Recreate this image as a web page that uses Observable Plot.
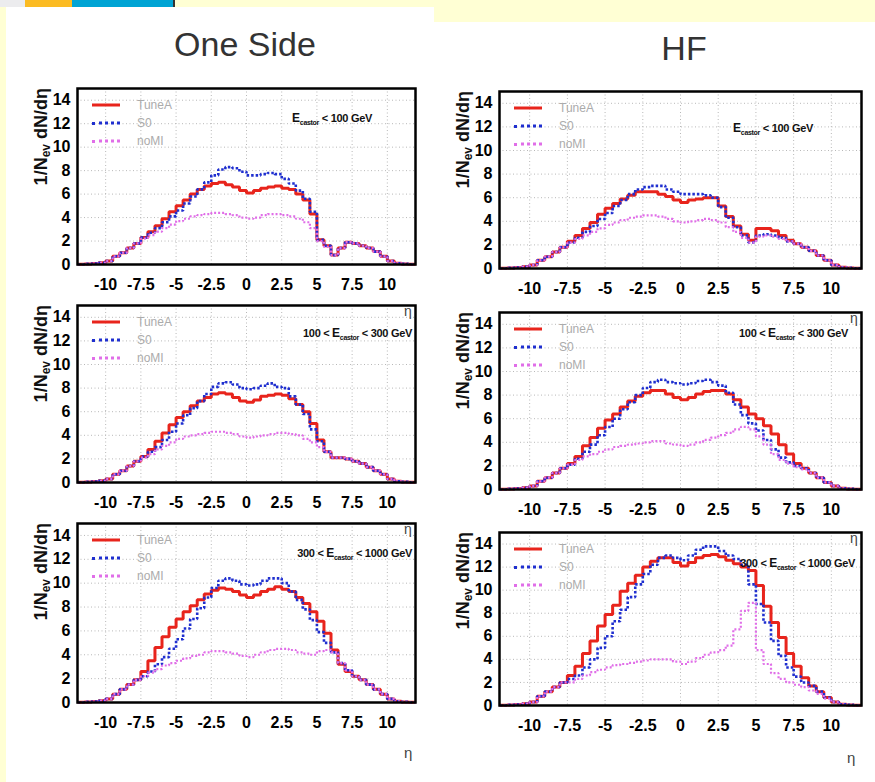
<!DOCTYPE html>
<html>
<head>
<meta charset="utf-8">
<script src="https://cdn.jsdelivr.net/npm/d3@7"></script>
<script src="https://cdn.jsdelivr.net/npm/@observablehq/plot@0.6"></script>
<style>
  html, body { margin: 0; padding: 0; }
  body { width: 875px; height: 782px; background: #ffffd4; position: relative; overflow: hidden;
         font-family: "Liberation Sans", Arial, sans-serif; }
  .abs { position: absolute; }
  .sheet { position: absolute; background: #ffffff; }
  .title { position: absolute; font-size: 34px; color: #333; white-space: nowrap; transform: translateX(-50%); }
  .ylab { position: absolute; width: 124px; height: 22px; line-height: 22px; text-align: right;
          font-weight: bold; font-size: 18px; color: #111; white-space: nowrap; transform: rotate(-90deg); }
  .ylab sub { font-size: 12px; vertical-align: -3px; }
  .elab { position: absolute; font-weight: bold; font-size: 11px; color: #111; white-space: nowrap;
          transform: translate(-100%, -50%); letter-spacing: -0.3px; }
  .elab .E { font-size: 12px; }
  .elab sub { font-size: 7px; vertical-align: -3px; }
  .leg { position: absolute; font-size: 12px; color: #ababab; white-space: nowrap; transform: translateY(-50%); }
  .legline { position: absolute; width: 28px; height: 0; transform: translateY(-50%); }
  .eta { position: absolute; color: #444; font-size: 15px; white-space: nowrap; }
</style>
</head>
<body>
<script>
// ---------------- data ----------------
const etaEdges = [-12,-11.5,-11,-10.5,-10,-9.5,-9,-8.5,-8,-7.5,-7,-6.5,-6,-5.5,-5,-4.5,-4,-3.5,-3,-2.5,-2,-1.5,-1,-0.5,0,
                  0.5,1,1.5,2,2.5,3,3.5,4,4.5,5,5.5,6,6.5,7,7.5,8,8.5,9,9.5,10,10.5,11,11.5,12];
const xTickValues = [-10,-7.5,-5,-2.5,0,2.5,5,7.5,10];
const yTickValues = [0,2,4,6,8,10,12,14];
const seriesNames = ["TuneA","S0","noMI"];
const columnTitles = ["One Side","HF"];
const energyPrefix = ["", "100 <", "300 <"];
const energySuffix = ["< 100 GeV", "< 300 GeV", "< 1000 GeV"];

// One Side, E_castor < 100 GeV
const oneSideLow_TuneA = [0.02,0.05,0.08,0.15,0.3,0.7,1.0,1.4,1.8, 2.3,2.8,3.3,3.9, 4.5,5.0,5.5,6.0, 6.4,6.7,6.9,7.0, 6.8,6.6,6.3,6.1, 6.3,6.5,6.6,6.7, 6.5,6.4,6.0,5.5, 4.3,2.1,1.6,0.8, 1.4,1.9,1.8,1.6, 1.4,1.1,0.7,0.3, 0.1,0.05,0.02];
const oneSideLow_S0    = [0.02,0.05,0.08,0.15,0.3,0.7,1.0,1.4,1.8, 2.3,2.7,3.1,3.6, 4.1,4.6,5.2,5.8, 6.4,7.0,7.6,8.1, 8.3,8.2,7.9,7.6, 7.6,7.7,7.8,7.7, 7.3,6.9,6.3,5.6, 4.5,2.1,1.6,0.8, 1.4,1.9,1.8,1.6, 1.4,1.1,0.7,0.3, 0.1,0.05,0.02];
const oneSideLow_noMI  = [0.02,0.05,0.08,0.15,0.3,0.7,1.0,1.4,1.8, 2.2,2.5,2.8,3.1, 3.4,3.7,3.9,4.1, 4.2,4.3,4.4,4.4, 4.3,4.2,4.0,3.9, 4.0,4.2,4.3,4.3, 4.2,4.1,3.9,3.6, 3.1,2.0,1.5,0.8, 1.4,1.9,1.8,1.6, 1.4,1.1,0.7,0.3, 0.1,0.05,0.02];
// HF, E_castor < 100 GeV
const hfLow_TuneA = [0.02,0.05,0.08,0.15,0.3,0.7,1.0,1.4,1.8, 2.3,2.8,3.4,3.9, 4.6,5.1,5.5,5.9, 6.2,6.5,6.5,6.5, 6.3,6.1,5.8,5.6, 5.8,5.9,6.0,6.0, 5.3,4.4,3.6,2.9, 2.4,3.4,3.4,3.2, 2.8,2.4,2.1,1.8, 1.5,1.1,0.7,0.3, 0.1,0.05,0.02];
const hfLow_S0    = [0.02,0.05,0.08,0.15,0.3,0.7,1.0,1.4,1.8, 2.2,2.6,3.1,3.6, 4.2,4.7,5.3,5.8, 6.3,6.7,6.9,7.0, 7.0,6.7,6.5,6.3, 6.3,6.3,6.2,6.0, 5.2,4.3,3.5,2.8, 2.2,2.8,2.9,2.8, 2.6,2.3,2.1,1.8, 1.5,1.1,0.7,0.3, 0.1,0.05,0.02];
const hfLow_noMI  = [0.02,0.05,0.08,0.15,0.3,0.7,1.0,1.4,1.8, 2.2,2.5,2.8,3.1, 3.4,3.7,3.9,4.1, 4.3,4.4,4.5,4.5, 4.4,4.2,4.0,3.9, 4.0,4.1,4.2,4.1, 3.9,3.5,3.1,2.6, 2.2,2.7,2.8,2.7, 2.5,2.3,2.1,1.8, 1.5,1.1,0.7,0.3, 0.1,0.05,0.02];
// One Side, 100 < E_castor < 300 GeV
const oneSideMid_TuneA = [0.02,0.05,0.08,0.15,0.3,0.7,1.0,1.4,1.8, 2.2,2.8,3.5,4.2, 4.9,5.5,6.0,6.5, 6.9,7.2,7.5,7.6, 7.5,7.2,6.9,6.8, 7.0,7.3,7.4,7.5, 7.4,7.1,6.6,6.0, 5.0,3.6,2.6,2.1, 2.1,2.0,1.8,1.6, 1.3,1.0,0.7,0.3, 0.1,0.05,0.02];
const oneSideMid_S0    = [0.02,0.05,0.08,0.15,0.3,0.7,1.0,1.4,1.8, 2.2,2.6,3.0,3.6, 4.3,5.0,5.7,6.3, 6.9,7.5,8.1,8.4, 8.5,8.3,8.0,7.9, 8.0,8.2,8.4,8.1, 8.0,7.3,6.6,5.8, 4.5,3.5,2.6,2.1, 2.1,2.0,1.8,1.6, 1.3,1.0,0.7,0.3, 0.1,0.05,0.02];
const oneSideMid_noMI  = [0.02,0.05,0.08,0.15,0.3,0.7,1.0,1.4,1.8, 2.1,2.4,2.8,3.1, 3.4,3.7,3.9,4.0, 4.1,4.2,4.3,4.3, 4.2,4.1,3.9,3.8, 3.9,4.0,4.1,4.2, 4.2,4.1,4.0,3.7, 3.4,3.0,2.6,2.1, 2.1,2.0,1.8,1.6, 1.3,1.0,0.7,0.3, 0.1,0.05,0.02];
// HF, 100 < E_castor < 300 GeV
const hfMid_TuneA = [0.02,0.05,0.08,0.15,0.3,0.7,1.0,1.4,1.8, 2.2,2.8,3.7,4.4, 5.2,5.9,6.4,7.0, 7.5,7.9,8.2,8.4, 8.4,8.1,7.8,7.6, 7.8,8.1,8.3,8.4, 8.4,8.1,7.6,7.0, 6.4,6.0,5.4,4.7, 3.8,3.0,2.2,1.8, 1.4,1.0,0.6,0.3, 0.1,0.05,0.02];
const hfMid_S0    = [0.02,0.05,0.08,0.15,0.3,0.7,1.0,1.4,1.8, 2.1,2.6,3.2,3.8, 4.6,5.3,6.0,6.8, 7.4,8.0,8.6,9.1, 9.3,9.1,9.0,8.9, 9.0,9.2,9.3,9.1, 8.8,8.2,7.2,6.3, 5.6,5.0,4.2,3.4, 2.7,2.3,2.0,1.8, 1.4,1.0,0.6,0.3, 0.1,0.05,0.02];
const hfMid_noMI  = [0.02,0.05,0.08,0.15,0.3,0.7,1.0,1.4,1.8, 2.1,2.5,2.8,3.0, 3.2,3.4,3.6,3.7, 3.8,3.9,4.0,4.1, 4.1,3.9,3.8,3.7, 3.8,4.0,4.2,4.4, 4.6,4.8,5.1,5.3, 5.1,4.5,3.8,3.0, 2.5,2.2,1.9,1.7, 1.4,1.0,0.6,0.3, 0.1,0.05,0.02];
// One Side, 300 < E_castor < 1000 GeV
const oneSideHigh_TuneA = [0.02,0.05,0.08,0.15,0.3,0.7,1.1,1.5,1.9, 2.6,3.5,4.6,5.5, 6.3,7.0,7.6,8.1, 8.6,9.1,9.4,9.6, 9.5,9.3,9.0,8.8, 9.0,9.3,9.5,9.7, 9.5,9.3,8.8,8.3, 7.6,6.8,5.8,4.4, 3.2,2.6,2.2,1.9, 1.5,1.1,0.7,0.3, 0.1,0.05,0.02];
const oneSideHigh_S0    = [0.02,0.05,0.08,0.15,0.3,0.7,1.1,1.5,1.9, 2.2,2.6,3.2,3.8, 4.5,5.3,6.2,7.0, 7.9,8.8,9.6,10.2, 10.4,10.2,9.9,9.8, 9.9,10.2,10.4,10.4, 10.0,9.3,8.6,7.8, 6.9,5.9,5.0,4.2, 3.3,2.7,2.2,1.9, 1.5,1.1,0.7,0.3, 0.1,0.05,0.02];
const oneSideHigh_noMI  = [0.02,0.05,0.08,0.15,0.3,0.7,1.1,1.5,1.9, 2.2,2.5,2.8,3.1, 3.3,3.5,3.7,3.9, 4.0,4.2,4.3,4.3, 4.2,4.1,3.9,3.8, 4.0,4.2,4.4,4.5, 4.5,4.4,4.2,4.1, 4.0,4.3,4.4,4.2, 3.3,2.7,2.2,1.9, 1.5,1.1,0.7,0.3, 0.1,0.05,0.02];
// HF, 300 < E_castor < 1000 GeV
const hfHigh_TuneA = [0.02,0.05,0.08,0.15,0.3,0.8,1.2,1.6,2.0, 2.6,3.4,4.5,5.6, 6.9,7.9,8.7,9.9, 10.6,11.3,12.0,12.5, 12.8,12.8,12.4,12.1, 12.4,12.8,13.0,13.1, 12.9,12.6,12.3,12.0, 11.7,10.4,8.6,7.2, 5.9,4.5,3.4,2.4, 1.7,1.2,0.7,0.3, 0.1,0.05,0.02];
const hfHigh_S0    = [0.02,0.05,0.08,0.15,0.3,0.8,1.2,1.6,2.0, 2.3,2.6,3.3,4.0, 5.0,6.0,7.3,8.3, 9.4,10.5,11.4,12.2, 12.8,13.0,12.8,12.6, 13.0,13.5,13.8,13.8, 13.4,13.0,12.7,12.2, 10.5,8.8,7.2,5.6, 4.3,3.3,2.5,2.0, 1.7,1.2,0.7,0.3, 0.1,0.05,0.02];
const hfHigh_noMI  = [0.02,0.05,0.08,0.15,0.3,0.8,1.2,1.6,2.0, 2.0,2.3,2.6,2.9, 3.1,3.3,3.5,3.6, 3.7,3.8,3.9,4.0, 4.0,4.0,3.8,3.6, 3.8,4.1,4.4,4.6, 4.8,5.2,6.6,8.2, 8.9,4.8,3.6,2.8, 2.3,2.0,1.8,1.6, 1.3,1.0,0.6,0.3, 0.1,0.05,0.02];

// ---------------- layout & style ----------------
const seriesStyle = [
  {stroke: "#e8241c", strokeWidth: 3, dash: null, css: "3px solid #e8241c"},
  {stroke: "#1f2fcf", strokeWidth: 2.6, dash: "2.5,2", css: "3px dotted #1f2fcf"},
  {stroke: "#e06ee8", strokeWidth: 2.2, dash: "2,2", css: "3px dotted #e06ee8"}
];
const panels = [
  {series: [oneSideLow_TuneA, oneSideLow_S0, oneSideLow_noMI],   e: 0, left: 77,  top: 88,  w: 338, h: 176, eRight: 43, eY: 30, etaTop: false},
  {series: [hfLow_TuneA, hfLow_S0, hfLow_noMI],                  e: 0, left: 499, top: 91,  w: 362, h: 177, eRight: 48, eY: 37, etaTop: false},
  {series: [oneSideMid_TuneA, oneSideMid_S0, oneSideMid_noMI],   e: 1, left: 77,  top: 305, w: 338, h: 177, eRight: 3,  eY: 28, etaTop: true},
  {series: [hfMid_TuneA, hfMid_S0, hfMid_noMI],                  e: 1, left: 499, top: 312, w: 362, h: 177, eRight: 13, eY: 21, etaTop: true},
  {series: [oneSideHigh_TuneA, oneSideHigh_S0, oneSideHigh_noMI],e: 2, left: 77,  top: 523, w: 338, h: 179, eRight: 3,  eY: 30, etaTop: true},
  {series: [hfHigh_TuneA, hfHigh_S0, hfHigh_noMI],               e: 2, left: 499, top: 532, w: 362, h: 173, eRight: 6,  eY: 31, etaTop: true}
];

function el(tag, cls, css, html) {
  const d = document.createElement(tag);
  if (cls) d.className = cls;
  Object.assign(d.style, css || {});
  if (html != null) d.innerHTML = html;
  document.body.appendChild(d);
  return d;
}

// slide background pieces
el("div", "sheet", {left: "6px", top: "7px", width: "428px", height: "775px"});
el("div", "sheet", {left: "434px", top: "22px", width: "441px", height: "760px"});
el("div", "abs", {left: "0px", top: "0px", width: "25px", height: "7px", background: "#ececee"});
el("div", "abs", {left: "25px", top: "0px", width: "47px", height: "7px", background: "#fbbb22"});
el("div", "abs", {left: "72px", top: "0px", width: "101px", height: "7px", background: "#00a4d4"});
el("div", "abs", {left: "173px", top: "0px", width: "2px", height: "7px", background: "#333"});

// column titles
el("div", "title", {left: "245px", top: "25px"}, columnTitles[0]);
el("div", "title", {left: "684px", top: "29px"}, columnTitles[1]);

function rows(vals) {
  const r = vals.map((v, i) => ({eta: etaEdges[i], v}));
  r.push({eta: etaEdges[vals.length], v: vals[vals.length - 1]});
  return r;
}

const mL = 50, mR = 4, mT = 4, mB = 40;
panels.forEach(p => {
  const marks = [
    Plot.ruleX(xTickValues, {stroke: "#b8b8b8", strokeDasharray: "1,2.5", strokeWidth: 1}),
    Plot.ruleY(yTickValues, {stroke: "#b8b8b8", strokeDasharray: "1,2.5", strokeWidth: 1})
  ];
  p.series.forEach((vals, k) => {
    const s = seriesStyle[k];
    marks.push(Plot.line(rows(vals), {x: "eta", y: "v", curve: "step-after",
      stroke: s.stroke, strokeWidth: s.strokeWidth, strokeDasharray: s.dash || undefined,
      strokeLinejoin: "miter", strokeLinecap: "butt"}));
  });
  marks.push(Plot.frame({stroke: "#000", strokeWidth: 2.5}));

  const chart = Plot.plot({
    width: p.w + mL + mR,
    height: p.h + mT + mB,
    marginLeft: mL, marginRight: mR, marginTop: mT, marginBottom: mB,
    x: {domain: [-12, 12], ticks: xTickValues, tickFormat: d => String(d), tickSize: 0, tickPadding: 14, label: null},
    y: {domain: [0, 15], ticks: yTickValues, tickFormat: d => String(d), tickSize: 0, tickPadding: 7, label: null},
    style: {background: "transparent", fontFamily: "'Liberation Sans', Arial, sans-serif",
            fontSize: "16px", fontWeight: "bold", color: "#000", overflow: "visible"},
    marks
  });
  chart.style.position = "absolute";
  chart.style.left = (p.left - mL) + "px";
  chart.style.top = (p.top - mT) + "px";
  document.body.appendChild(chart);

  // y axis title
  el("div", "ylab", {left: (p.left - 36 - 62) + "px", top: (p.top + 62 - 11) + "px"},
     "1/N<sub>ev</sub> dN/d\u03b7");

  // legend
  seriesNames.forEach((name, k) => {
    const y = p.top + 17 + k * 18;
    el("div", "legline", {left: (p.left + 15) + "px", top: y + "px", borderTop: seriesStyle[k].css});
    el("div", "leg", {left: (p.left + 60) + "px", top: y + "px"}, name);
  });

  // energy label
  const pre = energyPrefix[p.e] ? energyPrefix[p.e] + " " : "";
  el("div", "elab", {left: (p.left + p.w - p.eRight) + "px", top: (p.top + p.eY) + "px"},
     pre + "<span class='E'>E</span><sub>castor</sub> " + energySuffix[p.e]);

  // leftover eta title of the panel above
  if (p.etaTop) el("div", "eta", {left: (p.left + p.w - 11) + "px", top: (p.top - 2) + "px", fontSize: "14px"}, "\u03b7");
});

// x-axis titles at the bottom
el("div", "eta", {left: "404px", top: "744px"}, "\u03b7");
el("div", "eta", {left: "847px", top: "749px"}, "\u03b7");
</script>
</body>
</html>
